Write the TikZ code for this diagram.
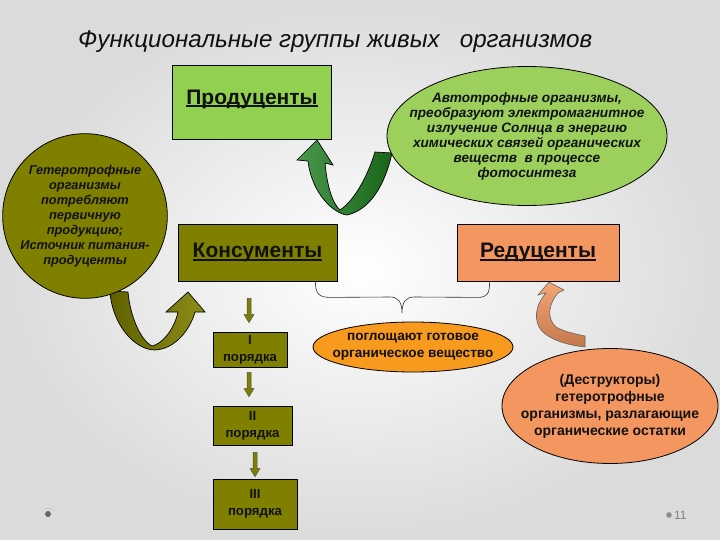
\documentclass[tikz,border=0pt]{standalone}
\usepackage{fontspec}
\setmainfont{Liberation Sans}
\newcommand\ulx[1]{\leavevmode\setbox0=\hbox{#1}\rlap{\copy0}\rule[-3pt]{\wd0}{1.6pt}}
\usetikzlibrary{shapes.geometric,calc}
\definecolor{lgreen}{HTML}{92D050}
\definecolor{olivec}{HTML}{808000}
\definecolor{egreen}{HTML}{9CCF5C}
\definecolor{salmon}{HTML}{F4965F}
\definecolor{orangec}{HTML}{F79A1E}
\definecolor{dgreen}{HTML}{1E7D1E}
\definecolor{txt}{HTML}{111111}
\begin{document}
\begin{tikzpicture}[x=1pt,y=-1pt,
  box/.style={draw=black, line width=0.8pt, rectangle, inner sep=0pt},
  bigtxt/.style={font=\fontsize{21}{25}\selectfont\bfseries, text=txt},
  smalltxt/.style={font=\fontsize{13.6}{17}\selectfont\bfseries, text=txt, align=center},
  italtxt/.style={font=\fontsize{12.8}{15}\selectfont\bfseries\itshape, text=txt, align=center},
  autotxt/.style={font=\fontsize{13.6}{15}\selectfont\bfseries\itshape, text=txt, align=center},
  oval/.style={ellipse, draw=black, line width=0.8pt, inner xsep=-40pt, inner ysep=0pt},
  smallarr/.style={fill=olivec, draw=black!70, line width=0.5pt},
  curvearr/.style={draw=black, line width=0.7pt}
]
\shade[inner color=white, outer color=black!14] (0,0) rectangle (720,540);
\useasboundingbox (0,0) rectangle (720,540);

% title
\node[anchor=base west, inner sep=0pt, font=\fontsize{24.2}{28}\selectfont\itshape, text=txt] (title) at (78,48)
  {Функциональные группы живых\ \ \ организмов};

% curved arrows (drawn under shapes)
\shadedraw[curvearr, left color=dgreen!80!white, right color=dgreen!80!black]
  (297,160) -- (317,140) -- (333,165) -- (325,163)
  .. controls (327,185) and (332,203) .. (340,210)
  .. controls (355,200) and (368,175) .. (375,152)
  -- (392,153)
  .. controls (385,185) and (370,210) .. (347,215)
  .. controls (335,214) and (312,195) .. (308,161) -- cycle;

\shadedraw[curvearr, left color=olivec!75!black, right color=olivec!90!white]
  (110,291) .. controls (112,325) and (135,350) .. (155,350)
  .. controls (175,349) and (190,330) .. (195,312)
  -- (205,312) -- (188,292) -- (166,312) -- (178,312)
  .. controls (174,330) and (162,344) .. (152,346)
  .. controls (140,340) and (130,315) .. (128,292) -- cycle;

\shadedraw[draw=black!60, line width=0.6pt, top color=salmon!85!white, bottom color=salmon!80!black]
  (549,282) -- (564,290) -- (558,293)
  .. controls (549,303) and (546,318) .. (556,327)
  .. controls (565,332) and (576,334) .. (585,336)
  -- (585,347)
  .. controls (565,345) and (545,338) .. (539,327)
  .. controls (533,315) and (538,302) .. (546,293)
  -- (538,295) -- cycle;

% boxes
\node[box, fill=lgreen, minimum width=159pt, minimum height=74pt,
      label={[bigtxt, yshift=3pt]center:\ulx{Продуценты}}] (prod) at (252,102) {};
\node[box, fill=olivec, minimum width=159pt, minimum height=57pt, bigtxt] (kons) at (257.5,252.5) {\ulx{Консументы}};
\node[box, fill=salmon, minimum width=162pt, minimum height=57pt, bigtxt] (red) at (538,252.5) {\ulx{Редуценты}};

% left circle
\node[circle, draw=black, line width=0.8pt, fill=olivec, minimum size=164pt, inner sep=0pt, italtxt] (het) at (85,216)
  {Гетеротрофные\\организмы\\потребляют\\первичную\\продукцию;\\Источник питания-\\продуценты};

% autotroph ellipse
\node[oval, fill=egreen, minimum width=280pt, minimum height=139pt, autotxt] (auto) at (527,136)
  {Автотрофные организмы,\\преобразуют электромагнитное\\излучение Солнца в энергию\\химических связей органических\\веществ\ \ в процессе\\фотосинтеза};

% brace
\coordinate (bl) at ($(kons.south east)+(-22,0)$);
\coordinate (br) at ($(red.south west)+(33,0)$);
\draw[black!80, line width=0.6pt] (bl) .. controls ($(bl)+(0,12)$) and ($(bl)+(3,16)$) .. ($(bl)+(15,16)$)
  -- (390,297) .. controls (398,297) and (402,302) .. (402,313)
  .. controls (402,302) and (406,297) .. (414,297)
  -- ($(br)+(-12,16)$) .. controls ($(br)+(-2,16)$) and ($(br)+(0,12)$) .. (br);

% orange ellipse
\node[oval, fill=orangec, minimum width=200pt, minimum height=50pt, smalltxt] (ogl) at (413,347)
  {поглощают готовое\\органическое вещество};

% destructors ellipse
\node[oval, fill=salmon, minimum width=216pt, minimum height=115pt, smalltxt, font=\fontsize{14}{17}\selectfont\bfseries] (destr) at (610,406)
  {(Деструкторы)\\гетеротрофные\\организмы, разлагающие\\органические остатки};

% order boxes
\node[box, fill=olivec, minimum width=74pt, minimum height=35pt, smalltxt, font=\fontsize{13.2}{17}\selectfont\bfseries] (p1) at (250,349.5) {I\\порядка};
\node[box, fill=olivec, minimum width=79pt, minimum height=39pt, smalltxt, font=\fontsize{13.2}{17}\selectfont\bfseries] (p2) at (252.5,425.5) {II\\порядка};
\node[box, fill=olivec, minimum width=84pt, minimum height=50pt, smalltxt, font=\fontsize{13.2}{17}\selectfont\bfseries] (p3) at (255,504) {III\\порядка};

% small arrows
\newcommand\blkarrow[2]{%
  \filldraw[smallarr] ($(#1)+(-2,0)$) -- ($(#2)+(-2,-8)$) -- ($(#2)+(-5,-8)$) -- (#2)
    -- ($(#2)+(5,-8)$) -- ($(#2)+(2,-8)$) -- ($(#1)+(2,0)$) -- cycle;}
\coordinate (a1s) at ($(kons.south)+(-8.5,17)$);
\coordinate (a1e) at ($(p1.north)+(-1,-9)$);
\coordinate (a2s) at ($(p1.south)+(-1,5)$);
\coordinate (a2e) at ($(p2.north)+(-3.5,-9)$);
\coordinate (a3s) at ($(p2.south)+(2.5,7)$);
\coordinate (a3e) at ($(p3.north)+(0,-2)$);
\blkarrow{a1s}{a1e}
\blkarrow{a2s}{a2e}
\blkarrow{a3s}{a3e}

% slide decorations
\fill[black!60] (48,514) circle (3pt);
\draw[black!25, line width=0.6pt] (48,514) ++(40:6pt) arc (40:120:6pt);
\fill[black!45] (669,515) circle (2.8pt);
\node[anchor=west, inner sep=0pt, font=\fontsize{12}{14}\selectfont, text=black!50] (pnum) at (674,515) {11};
\end{tikzpicture}
\end{document}
